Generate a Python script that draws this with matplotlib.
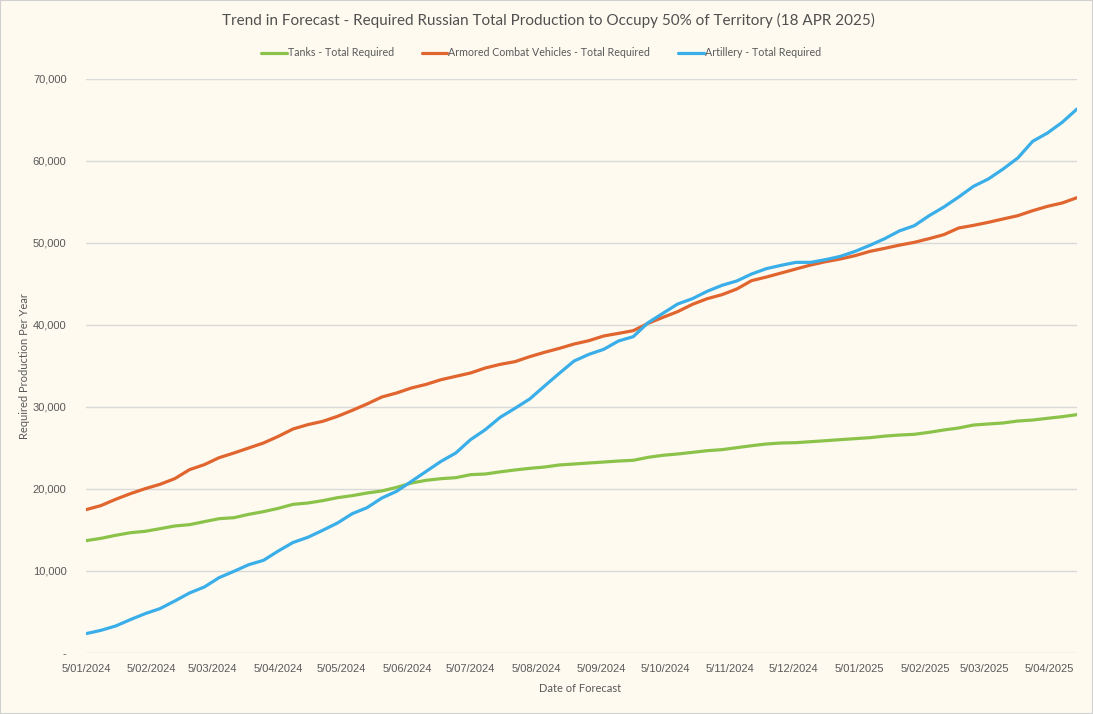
import matplotlib
matplotlib.use("Agg")
import matplotlib.pyplot as plt
import matplotlib.patches as mpatches
import numpy as np
import pandas as pd

# Weekly forecast dates, 5 Jan 2024 .. 18 Apr 2025
forecast_dates = pd.date_range("2024-01-05", "2025-04-18", freq="7D")

tanks = [
    13.70, 13.98, 14.35, 14.67, 14.84, 15.16, 15.49, 15.65, 16.02, 16.38,
    16.50, 16.91, 17.24, 17.64, 18.13, 18.29, 18.58, 18.94, 19.19, 19.51,
    19.76, 20.20, 20.73, 21.06, 21.26, 21.38, 21.75, 21.83, 22.09, 22.32,
    22.52, 22.68, 22.93, 23.05, 23.17, 23.29, 23.41, 23.50, 23.86, 24.11,
    24.27, 24.47, 24.67, 24.80, 25.04, 25.28, 25.49, 25.61, 25.65, 25.77,
    25.89, 26.02, 26.14, 26.26, 26.45, 26.58, 26.67, 26.91, 27.20, 27.44,
    27.80, 27.93, 28.05, 28.29, 28.41, 28.62, 28.82, 29.07,
]
acv = [
    17.48, 17.97, 18.74, 19.43, 20.04, 20.57, 21.26, 22.36, 22.97, 23.82,
    24.39, 25.00, 25.61, 26.42, 27.32, 27.85, 28.25, 28.86, 29.59, 30.37,
    31.22, 31.71, 32.32, 32.76, 33.33, 33.74, 34.15, 34.76, 35.20, 35.53,
    36.14, 36.67, 37.15, 37.68, 38.09, 38.66, 38.98, 39.31, 40.20, 40.93,
    41.63, 42.52, 43.21, 43.70, 44.39, 45.41, 45.85, 46.34, 46.83, 47.32,
    47.72, 48.05, 48.46, 48.98, 49.35, 49.74, 50.08, 50.53, 51.02, 51.83,
    52.15, 52.52, 52.93, 53.33, 53.94, 54.47, 54.88, 55.53,
]
artillery = [
    2.36, 2.76, 3.29, 4.07, 4.80, 5.41, 6.34, 7.32, 8.05, 9.19,
    9.96, 10.77, 11.30, 12.44, 13.48, 14.11, 14.96, 15.85, 16.99, 17.72,
    18.90, 19.72, 20.93, 22.15, 23.37, 24.39, 26.02, 27.24, 28.74, 29.84,
    30.98, 32.56, 34.11, 35.61, 36.42, 37.03, 38.05, 38.58, 40.28, 41.42,
    42.56, 43.21, 44.11, 44.84, 45.37, 46.22, 46.87, 47.28, 47.64, 47.64,
    47.97, 48.37, 48.98, 49.72, 50.53, 51.48, 52.11, 53.33, 54.39, 55.61,
    56.91, 57.80, 59.02, 60.37, 62.40, 63.41, 64.72, 66.34,
]

series_names = [
    "Tanks - Total Required",
    "Armored Combat Vehicles - Total Required",
    "Artillery - Total Required",
]
series_colors = ["#8BC34A", "#E0652E", "#3AAEE8"]

tick_dates = pd.date_range("2024-01-01", "2025-04-01", freq="MS") + pd.Timedelta(days=4)
tick_labels = [f"{d.day}/{d.month:02d}/{d.year}" for d in tick_dates]
y_ticks = np.arange(0, 70001, 10000)
y_labels = ["-" if v == 0 else f"{v:,}" for v in y_ticks]

bg = "#FEFAF0"
text_col = "#595959"

fig = plt.figure(figsize=(10.93, 7.14), dpi=100, facecolor=bg)
ax = fig.add_axes([86 / 1093, 61 / 714, 991 / 1093, 574 / 714], facecolor=bg)

for vals, name, col in zip([tanks, acv, artillery], series_names, series_colors):
    ax.plot(forecast_dates, np.array(vals) * 1000, color=col, lw=2.3,
            label=name, solid_joinstyle="round", solid_capstyle="round")

ax.set_xlim(forecast_dates[0], forecast_dates[-1])
ax.set_ylim(0, 70000)
ax.set_yticks(y_ticks)
ax.set_yticklabels(y_labels, fontsize=8, color=text_col, family="Liberation Sans")
ax.set_xticks(tick_dates)
ax.set_xticklabels(tick_labels, fontsize=8, color=text_col, family="Liberation Sans")
ax.tick_params(length=0, pad=8)
ax.tick_params(axis="y", pad=14)
ax.grid(axis="y", color="#D9D9D9", lw=1)
ax.set_axisbelow(True)
for s in ax.spines.values():
    s.set_visible(False)

fig.text(25 / 1093, 1 - 366 / 714, "Required Production Per Year", rotation=90,
         ha="center", va="center", fontsize=8, color=text_col, family="Lato")
fig.text(580 / 1093, 1 - 689 / 714, "Date of Forecast", ha="center", va="center",
         fontsize=8, color=text_col, family="Lato")

fig.text(0.5015, 0.972, "Trend in Forecast - Required Russian Total Production to Occupy 50% of Territory (18 APR 2025)",
         ha="center", va="center", fontsize=11, color="#505050", family="Lato")

leg = fig.legend(loc="center", bbox_to_anchor=(0.495, 0.926), ncol=3, frameon=False,
                 prop={"family": "Lato", "size": 7.7}, labelcolor=text_col,
                 handlelength=2.4, handletextpad=0.1, columnspacing=2.6)

fig.patches.append(mpatches.Rectangle((0, 0), 1, 1, transform=fig.transFigure,
                                      fill=False, edgecolor="#D0D0D0", lw=1.5))

fig.savefig("out.png", dpi=100, facecolor=bg)
